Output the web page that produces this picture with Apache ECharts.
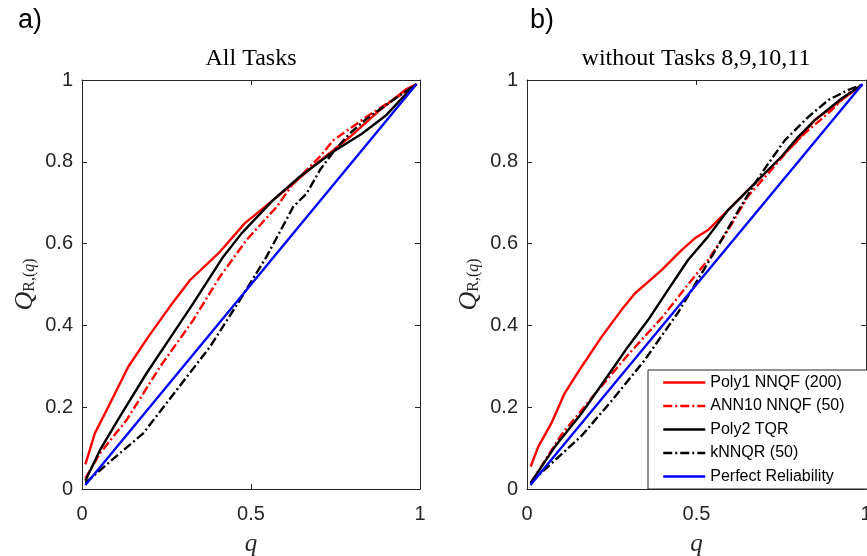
<!DOCTYPE html>
<html>
<head>
<meta charset="utf-8">
<script src="https://cdn.jsdelivr.net/npm/echarts@6/dist/echarts.min.js"></script>
<style>
  html, body { margin: 0; padding: 0; background: #fff; }
  #chart { width: 867px; height: 556px; }
</style>
</head>
<body>
<div id="chart"></div>
<script>
// legend names, same order for both panels
var names = ['Poly1 NNQF (200)', 'ANN10 NNQF (50)', 'Poly2 TQR', 'kNNQR (50)', 'Perfect Reliability'];

// a) All Tasks  -- [q, Q_R(q)]
var allPoly1 = [[0.01,0.06],[0.038,0.136],[0.078,0.201],[0.137,0.299],[0.196,0.372],[0.26,0.446],[0.32,0.511],[0.408,0.58],[0.482,0.65],[0.566,0.707],[0.625,0.747],[0.694,0.796],[0.793,0.861],[0.882,0.927],[0.96,0.978],[0.99,0.99]];
var allAnn10 = [[0.01,0.026],[0.053,0.087],[0.132,0.169],[0.231,0.299],[0.329,0.413],[0.408,0.519],[0.487,0.609],[0.576,0.69],[0.625,0.747],[0.704,0.813],[0.744,0.853],[0.842,0.91],[0.941,0.963],[0.99,0.99]];
var allPoly2 = [[0.01,0.02],[0.053,0.095],[0.112,0.177],[0.191,0.283],[0.25,0.356],[0.329,0.454],[0.418,0.568],[0.472,0.625],[0.566,0.707],[0.645,0.764],[0.744,0.825],[0.827,0.868],[0.9,0.914],[0.97,0.976],[0.99,0.99]];
var allKnn = [[0.01,0.015],[0.083,0.067],[0.181,0.136],[0.28,0.242],[0.379,0.348],[0.467,0.462],[0.546,0.568],[0.625,0.69],[0.665,0.723],[0.704,0.78],[0.744,0.825],[0.793,0.87],[0.842,0.905],[0.941,0.963],[0.99,0.99]];
var allPerfect = [[0.01,0.01],[0.99,0.99]];

// b) without Tasks 8,9,10,11
var subPoly1 = [[0.011,0.055],[0.033,0.103],[0.072,0.161],[0.111,0.234],[0.161,0.299],[0.22,0.372],[0.279,0.438],[0.318,0.478],[0.397,0.535],[0.456,0.584],[0.495,0.613],[0.534,0.633],[0.593,0.682],[0.652,0.731],[0.712,0.78],[0.79,0.845],[0.849,0.902],[0.928,0.951],[0.988,0.988]];
var subAnn10 = [[0.011,0.015],[0.101,0.132],[0.2,0.232],[0.298,0.328],[0.40,0.421],[0.475,0.5],[0.534,0.56],[0.593,0.633],[0.652,0.716],[0.712,0.772],[0.771,0.829],[0.82,0.87],[0.889,0.919],[0.948,0.967],[0.988,0.988]];
var subPoly2 = [[0.011,0.015],[0.082,0.103],[0.161,0.185],[0.229,0.266],[0.298,0.348],[0.357,0.413],[0.416,0.487],[0.475,0.56],[0.534,0.617],[0.593,0.682],[0.633,0.715],[0.692,0.764],[0.751,0.813],[0.8,0.861],[0.849,0.902],[0.928,0.955],[0.988,0.988]];
var subKnn = [[0.011,0.015],[0.062,0.055],[0.161,0.13],[0.249,0.215],[0.347,0.315],[0.446,0.432],[0.515,0.527],[0.574,0.609],[0.613,0.666],[0.672,0.747],[0.712,0.796],[0.761,0.853],[0.83,0.91],[0.889,0.951],[0.948,0.976],[0.988,0.988]];
var subPerfect = [[0.01,0.01],[0.99,0.99]];

var axisColor = '#262626';
var dashDot = [9, 3, 2, 3];
var styles = [
  { color: '#ff0000', type: 'solid' },
  { color: '#ff0000', type: dashDot },
  { color: '#000000', type: 'solid' },
  { color: '#000000', type: dashDot },
  { color: '#0000ff', type: 'solid' }
];

// fixed plot boxes, no auto shrinking for labels
var grids = [
  { left: 82, top: 80, width: 338, height: 409, outerBoundsMode: 'none', containLabel: false },
  { left: 527, top: 80, width: 339, height: 409, outerBoundsMode: 'none', containLabel: false }
];

function boxAxis(kind, grid, pos, labels) {
  return {
    type: 'value', gridIndex: grid, position: pos, min: 0, max: 1,
    interval: kind === 'x' ? 0.5 : 0.2,
    axisLine: { show: true, onZero: false, lineStyle: { color: axisColor, width: 1 } },
    axisTick: { show: true, inside: true, length: 5, lineStyle: { color: axisColor } },
    splitLine: { show: false },
    axisLabel: {
      show: labels, color: axisColor, fontFamily: 'Liberation Sans, Arial', fontSize: 20,
      margin: kind === 'x' ? 15 : 9,
      formatter: function (v) { return String(Math.round(v * 10) / 10); }
    }
  };
}

var xAxes = [], yAxes = [];
[0, 1].forEach(function (g) {
  var xb = boxAxis('x', g, 'bottom', true);
  xb.name = 'q';
  xb.nameLocation = 'middle';
  xb.nameGap = 43;
  xb.nameTextStyle = { fontFamily: 'Liberation Serif, Times New Roman', fontStyle: 'italic', fontSize: 25, color: axisColor };
  xAxes.push(xb);
  xAxes.push(boxAxis('x', g, 'top', false));
  var yl = boxAxis('y', g, 'left', true);
  yl.name = '{q|Q}{s|R,(}{si|q}{s|)}';
  yl.nameLocation = 'middle';
  yl.nameGap = g === 0 ? 44 : 45;
  yl.nameRotate = 90;
  yl.nameTextStyle = {
    color: axisColor,
    rich: {
      q: { fontFamily: 'Liberation Serif', fontStyle: 'italic', fontSize: 26, color: axisColor },
      s: { fontFamily: 'Liberation Serif', fontSize: 16, color: axisColor, verticalAlign: 'bottom', padding: [8, 0, 0, 0] },
      si: { fontFamily: 'Liberation Serif', fontStyle: 'italic', fontSize: 16, color: axisColor, verticalAlign: 'bottom', padding: [8, 0, 0, 0] }
    }
  };
  yAxes.push(yl);
  yAxes.push(boxAxis('y', g, 'right', false));
});

var panelData = [
  [allPoly1, allAnn10, allPoly2, allKnn, allPerfect],
  [subPoly1, subAnn10, subPoly2, subKnn, subPerfect]
];

var series = [];
panelData.forEach(function (set, g) {
  set.forEach(function (d, i) {
    series.push({
      type: 'line', name: names[i], data: d,
      xAxisIndex: g * 2, yAxisIndex: g * 2,
      showSymbol: false, symbol: 'none', smooth: false, animation: false,
      lineStyle: { color: styles[i].color, type: styles[i].type, width: 2.4 },
      itemStyle: { color: styles[i].color },
      z: 2 + i
    });
  });
});

var option = {
  backgroundColor: '#ffffff',
  animation: false,
  grid: grids,
  xAxis: xAxes,
  yAxis: yAxes,
  legend: {
    data: names,
    orient: 'vertical',
    left: 648, top: 370,
    itemWidth: 42, itemHeight: 16, itemGap: 7.5,
    padding: [4.5, 23, 4.5, 14],
    backgroundColor: '#ffffff',
    borderColor: axisColor, borderWidth: 1,
    selectedMode: false,
    itemStyle: { opacity: 0 },
    lineStyle: { width: 2.5 },
    textStyle: { fontFamily: 'Liberation Sans, Arial', fontSize: 16, color: '#000', lineHeight: 16 },
    z: 20
  },
  graphic: [
    { type: 'text', left: 18, top: 7, style: { text: 'a)', font: '27px "Liberation Sans", Arial', fill: '#000' } },
    { type: 'text', left: 530, top: 7, style: { text: 'b)', font: '27px "Liberation Sans", Arial', fill: '#000' } },
    { type: 'text', x: 251, y: 59, style: { text: 'All Tasks', font: '24px "Liberation Serif", "Times New Roman"', fill: '#000', align: 'center', verticalAlign: 'middle' } },
    { type: 'text', x: 696, y: 59, style: { text: 'without Tasks 8,9,10,11', font: '24px "Liberation Serif", "Times New Roman"', fill: '#000', align: 'center', verticalAlign: 'middle' } }
  ],
  series: series
};

echarts.init(document.getElementById('chart')).setOption(option);
</script>
</body>
</html>
